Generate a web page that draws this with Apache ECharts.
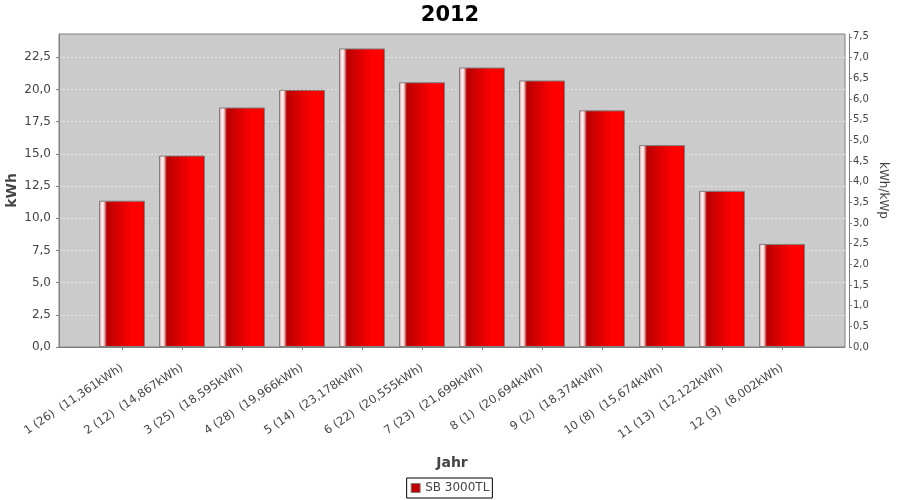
<!DOCTYPE html>
<html>
<head>
<meta charset="utf-8">
<script src="https://cdn.jsdelivr.net/npm/echarts@6/dist/echarts.min.js"></script>
<style>html,body{margin:0;padding:0;background:#fff;}#c{width:900px;height:500px;}</style>
</head>
<body>
<div id="c"></div>
<script>
const months = [1,2,3,4,5,6,7,8,9,10,11,12];
const ranks = [26,12,25,28,14,22,23,1,2,8,13,3];
const kwh = [11.361,14.867,18.595,19.966,23.178,20.555,21.699,20.694,18.374,15.674,12.122,8.002];
const seriesName = 'SB 3000TL';
const titleText = '2012';

const fmt = (v, d) => v.toFixed(d).replace('.', ',');
const categories = months.map((m, i) => m + ' (' + ranks[i] + ')  (' + fmt(kwh[i], 3) + 'kWh)');

const leftMax = 24.3, rightMax = 7.57;
const font = 'DejaVu Sans';
const chart = echarts.init(document.getElementById('c'), null, {renderer: 'canvas'});
chart.setOption({
  animation: false,
  backgroundColor: '#ffffff',
  title: {
    text: titleText, left: 'center', top: 0,
    textStyle: {fontFamily: font, fontSize: 21, fontWeight: 'bold', color: '#000'}
  },
  legend: {
    bottom: 2, left: 'center',
    data: [{name: seriesName, itemStyle: {color: '#c00000', borderColor: '#808080', borderWidth: 1}}],
    icon: 'rect', itemWidth: 9, itemHeight: 9, itemGap: 4,
    borderColor: '#000', borderWidth: 1, borderRadius: 0, padding: [4, 3, 4, 4],
    textStyle: {fontFamily: font, fontSize: 12, color: '#444'}
  },
  grid: [
    {left: 59, right: 55, top: 34, bottom: 153, show: true, backgroundColor: '#cbcbcb', borderColor: '#808080', borderWidth: 1, containLabel: false, outerBoundsMode: 'none'},
    {left: 92, right: 88, top: 34, bottom: 153, show: false, containLabel: false, outerBoundsMode: 'none'}
  ],
  xAxis: [
    {
      gridIndex: 0, type: 'value', min: 0, max: 1, offset: 4,
      axisLine: {show: true, lineStyle: {color: '#808080', width: 1}},
      axisTick: {show: false}, axisLabel: {show: false}, splitLine: {show: false},
      name: 'Jahr', nameLocation: 'middle', nameGap: 105, nameMoveOverlap: false,
      nameTextStyle: {fontFamily: font, fontSize: 14, fontWeight: 'bold', color: '#444'}
    },
    {
      gridIndex: 1, type: 'category', data: categories, offset: 4,
      axisLine: {show: false},
      axisTick: {show: true, alignWithLabel: true, length: 3, lineStyle: {color: '#808080'}},
      axisLabel: {rotate: 34, interval: 0, fontFamily: font, fontSize: 11.5, color: '#444', margin: 16},
      splitLine: {show: false}
    }
  ],
  yAxis: [
    {
      gridIndex: 0, type: 'value', position: 'left', min: 0, max: leftMax, interval: 2.5, offset: 4,
      axisLine: {show: true, lineStyle: {color: '#808080'}},
      axisTick: {show: true, length: 3, lineStyle: {color: '#808080'}},
      axisLabel: {fontFamily: font, fontSize: 12, color: '#444', margin: 4, showMaxLabel: false,
        formatter: v => fmt(v, 1)},
      splitLine: {show: true, showMaxLine: false, lineStyle: {color: '#e6e6e6', type: [2, 2], width: 1}},
      name: 'kWh', nameLocation: 'middle', nameGap: 36, nameMoveOverlap: false,
      nameTextStyle: {fontFamily: font, fontSize: 14, fontWeight: 'bold', color: '#444'}
    },
    {
      gridIndex: 0, type: 'value', position: 'right', min: 0, max: rightMax, interval: 0.5, offset: 4,
      axisLine: {show: true, lineStyle: {color: '#808080'}},
      axisTick: {show: true, length: 3, lineStyle: {color: '#808080'}},
      axisLabel: {fontFamily: font, fontSize: 10, color: '#444', margin: 4, showMaxLabel: false,
        formatter: v => fmt(v, 1)},
      splitLine: {show: false},
      name: 'kWh/kWp', nameLocation: 'middle', nameGap: 28, nameRotate: -90, nameMoveOverlap: false,
      nameTextStyle: {fontFamily: font, fontSize: 12, color: '#444'}
    },
    {
      gridIndex: 1, type: 'value', min: 0, max: leftMax, show: false
    }
  ],
  series: [{
    name: seriesName, type: 'bar', xAxisIndex: 1, yAxisIndex: 2,
    data: kwh, barWidth: 46,
    itemStyle: {
      borderColor: '#808080', borderWidth: 1,
      color: new echarts.graphic.LinearGradient(0, 0, 1, 0, [
        {offset: 0, color: '#d88888'},
        {offset: 0.04, color: '#f2c8c8'},
        {offset: 0.08, color: '#ffffff'},
        {offset: 0.12, color: '#e8a8a8'},
        {offset: 0.17, color: '#b80000'},
        {offset: 0.72, color: '#ff0000'},
        {offset: 0.9, color: '#ff0000'},
        {offset: 1, color: '#e80000'}
      ])
    }
  }]
});
</script>
</body>
</html>
